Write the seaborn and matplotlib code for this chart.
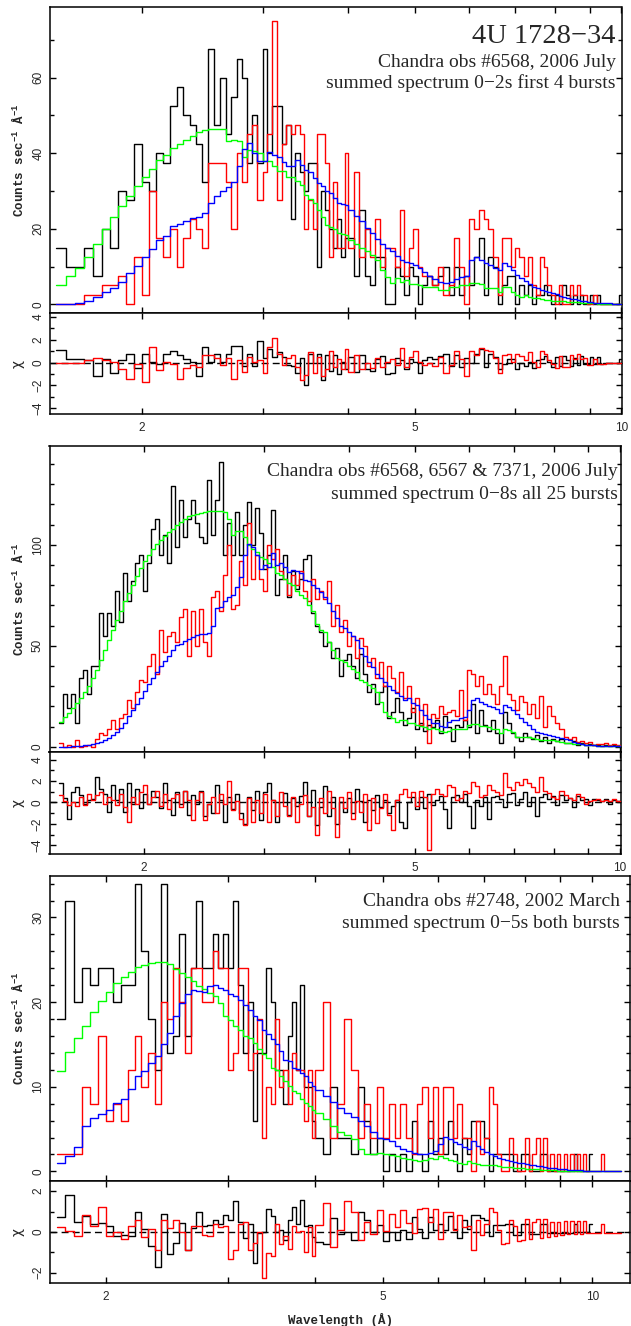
import numpy as np
import matplotlib
matplotlib.use("Agg")
import matplotlib.pyplot as plt
import seaborn as sns
from matplotlib.ticker import FixedLocator, NullFormatter, FuncFormatter

sns.set_style("ticks")
plt.rcParams['font.family'] = ['Liberation Sans', 'DejaVu Sans']
plt.rcParams['mathtext.default'] = 'regular'

# ------------------------------------------------------------------ data
# Panel 1: obs 6568, 0-2 s, first 4 bursts (bins in Angstrom)
P1_EDGES = np.concatenate([np.linspace(1.5, 4.0, 51),
                           np.linspace(4.0, 5.2, 17)[1:],
                           np.linspace(5.2, 10.0, 49)[1:]])
P1_BLACK = [15, 10, 10, 15, 7.5, 20, 15, 30, 27.5, 42.5,
            32.5, 30, 40, 37.5, 52.5, 57.5, 50, 47.5, 42.5, 32.5,
            67.5, 47.5, 60, 45, 55, 65, 60, 37.5, 50, 37.5,
            67.5, 40, 52.5, 52.5, 42.5, 47.5, 22.5, 40, 35, 30,
            37.5, 37.5, 10, 30, 25, 20, 15, 22.5, 12.5, 17.5,
            17.5, 7.5, 25, 7.5, 5, 12.5, 12.5, 0, 0, 10, 7.5, 2.5, 10, 7.5, 0, 5,
            7.5, 5, 7.5, 10, 2.5, 10, 2.5, 7.5, 5, 12.5,
            17.5, 2.5, 12.5, 10, 0, 5, 7.5, 7.5, 0, 5,
            2.5, 5, 0, 2.5, 2.5, 5, 2.5, 0, 2.5, 0,
            5, 2.5, 0, 2.5, 0, 2.5, 0, 0, 2.5, 0,
            2.5, 0, 0, 0, 0, 0, 0, 2.5]
P1_RED = [0, 0, 0, 2.5, 2.5, 5, 5, 7.5, 0, 12.5,
          2.5, 30, 17.5, 12.5, 20, 10, 17.5, 22.5, 20, 15,
          37.5, 37.5, 37.5, 32.5, 20, 40, 32.5, 45, 47.5, 27.5,
          35, 45, 75, 27.5, 42.5, 47.5, 45, 47.5, 45, 20,
          27.5, 20, 45, 45, 37.5, 12.5, 32.5, 15, 15, 40,
          15, 35, 12.5, 20, 12.5, 22.5, 10, 15, 15, 10, 25, 7.5, 15, 20, 10, 7.5,
          7.5, 5, 10, 2.5, 5, 17.5, 10, 0, 22.5, 20,
          25, 22.5, 20, 12.5, 2.5, 17.5, 17.5, 10, 15, 12.5,
          7.5, 12.5, 5, 2.5, 12.5, 10, 5, 2.5, 0, 5,
          0, 0, 5, 2.5, 5, 2.5, 2.5, 0, 0, 2.5,
          0, 0, 0, 0, 0, 0, 0, 0]
P1_GREEN = [5, 7.5, 9.5, 12.6, 15.9, 20, 23.1, 26, 28.8, 31.4,
            33.6, 35.8, 38.2, 39.6, 41.3, 42.4, 43.5, 44.6, 45.6, 46.1,
            46.4, 46.4, 46.4, 43.1, 43.4, 43.3, 39.1, 40.9, 40.5, 40,
            38, 38, 36.5, 35.3, 35.3, 33.8, 33.8, 32.6, 31.6, 29,
            28, 26.7, 25, 23.2, 21, 20.5, 20, 19, 18.7, 18.3,
            17, 16, 14.8, 14, 13, 11.7, 9, 7.3, 5.7, 6.9, 6, 6.4, 5.5, 5.5, 5.1, 4.7,
            4.5, 4.5, 3.8, 3.8, 4.7, 4.7, 5.1, 5.1, 5.6, 5.6,
            5.4, 4.2, 4.2, 4.2, 3.3, 4.7, 4.7, 3.3, 2.5, 2.0,
            2.5, 2.0, 1.6, 1.6, 1.3, 1.1, 1.1, 1.0, 1.0, 0.9,
            0.8, 0.7, 0.7, 0.6, 0.5, 0.4, 0.4, 0.3, 0.3, 0.25,
            0.2, 0.2, 0.15, 0.15, 0.1, 0.1, 0.1, 0.1]
P1_BLUE = [0, 0.1, 0.4, 1, 1.9, 3.2, 4.4, 5.8, 8.2, 10.2,
           12.4, 14.6, 16.9, 18.2, 20.6, 21.2, 22.1, 22.8, 23.2, 24.1,
           26.9, 28.8, 30.1, 31, 32.3, 36.5, 41.1, 42.8, 40, 38,
           38, 40.4, 39.5, 38.9, 37.8, 36.5, 36.5, 38.2, 36.9, 35.6,
           35.0, 33.4, 32, 31.3, 30, 29.5, 28.1, 26.7, 26.5, 26.3,
           25, 23.5, 22, 20.3, 18.8, 17.3, 16, 15, 14, 12.8, 11.6, 11.2, 11, 10.4, 9.5, 8.5,
           7.6, 6.6, 6.0, 5.6, 6.0, 6.8, 7.3, 7.6, 11.7, 12.4,
           11.7, 11.0, 10.4, 9.5, 9.1, 10.9, 10.2, 9.1, 7.8, 6.9,
           6.2, 5.4, 4.7, 4.2, 3.8, 3.5, 3.2, 2.9, 2.6, 2.2,
           2.0, 1.8, 1.5, 1.3, 1.1, 1.0, 0.8, 0.6, 0.5, 0.45,
           0.4, 0.35, 0.3, 0.3, 0.25, 0.2, 0.2, 0.2]
P1_BLACK_RES = [1.1, 0.3, 0.3, 0.2, -1.2, 0.3, -0.9, 0.2, 0.8, -0.5,
                0.8, 0.1, -0.1, 0.8, 1.0, 0.7, 0.3, 0.1, -1.2, 1.4,
                0.1, 0.8, 0.1, 0.8, 1.5, 1.5, -0.3, 0.8, -0.3, 1.9,
                0.4, 1.2, 0.5, 0.9, 0.5, -0.2, -0.3, -0.9, 0.4, -2.0,
                0.8, 0.0, 0.8, -1.5, 0.7, -0.7, 0.7, -1.0, 0.1, -0.6,
                0.5, -0.8, 0.7, -0.6, -0.7, 0.3, 0.6, -1.0, -0.9, 0.4, 0.2, -0.6, 0.3, 0.1, -0.9, 0.2,
                0.5, 0.3, 0.6, 0.8, -0.3, 0.7, -0.4, 0.4, 0.0, 0.8,
                1.2, -0.4, 0.8, 0.5, -0.6, -0.1, 0.3, 0.3, -0.6, 0.0,
                -0.3, 0.1, -0.5, 0.2, 0.3, 0.6, 0.1, -0.4, 0.5, -0.3,
                0.6, 0.2, -0.3, 0.4, -0.2, 0.6, -0.1, -0.1, 0.5, -0.1,
                0.5, -0.1, 0, 0, 0, 0, 0, 0.3]
P1_RED_RES = [0, 0, 0, 0.2, 0.4, 0.2, 0.1, -0.6, -1.45, -0.1,
              -1.7, 1.35, -0.65, 0.1, -0.1, -1.45, -0.5, -0.2, -0.35, 0.7,
              0.7, 0.4, -0.2, 0.4, -1.4, 0.2, -0.8, 0.5, 0.1, 0.2,
              -0.9, 1.35, 2.15, 0.8, -0.2, 0.4, 0.7, -0.4, -1.5, -1.1,
              0.9, -0.9, 0.5, -1.2, -0.6, 1.05, -0.4, 0.3, -0.6, 1.2,
              -0.8, 0.7, -0.6, 0.0, -0.5, 0.4, -0.4, 0.1, 0.3, -0.2, 1.3, -0.4, 0.5, 1.0, 0.1, -0.2,
              0.0, -0.3, 0.5, -0.9, -0.2, 1.0, 0.3, -1.2, 1.0, 0.7,
              1.3, 1.1, 1.0, 0.4, -0.9, 0.7, 0.8, 0.1, 0.8, 0.6,
              0.2, 0.9, 0.1, -0.4, 1.0, 0.8, 0.2, -0.1, -0.5, 0.6,
              -0.4, -0.4, 0.7, 0.3, 0.8, 0.3, 0.4, -0.2, -0.2, 0.3,
              -0.1, -0.1, -0.1, 0, 0, 0, 0, 0]

# Panel 2: obs 6568, 6567 & 7371, 0-8 s, all 25 bursts
P2_EDGES = np.geomspace(1.5, 10.0, 141)
P2_BLACK = [12, 26, 19, 26, 12, 34, 38, 26, 40, 40,
            66, 55, 66, 60, 77, 62, 86, 72, 82, 91,
            95, 77, 91, 108, 113, 95, 105, 91, 129, 99,
            122, 104, 113, 122, 111, 104, 101, 132, 105, 122,
            141, 95, 111, 95, 116, 95, 110, 121, 100, 118,
            106, 88, 95, 117, 75, 83, 95, 74, 87, 78,
            83, 93, 95, 66, 60, 57, 50, 52, 44, 49,
            35, 43, 46, 40, 34, 46, 36, 27, 31, 21,
            27, 30, 14, 17, 24, 17, 11, 14, 19, 9,
            12, 8, 11, 10, 13, 7, 15, 10, 3, 11,
            10, 13, 10, 21, 7, 18, 11, 8, 13, 7,
            2, 17, 12, 7, 5, 3, 7, 5, 4, 6,
            3, 5, 2, 4, 3, 4, 2, 2, 3, 1,
            2, 1, 1.5, 1, 1, 0.5, 1, 0.5, 1, 0.5]
P2_RED = [2, 0, 1, 0, 3.5, 0, 0.5, 1, 0, 4,
          7, 6, 9, 13, 9, 14, 16, 23, 19, 27,
          33, 32, 40, 46, 36, 58, 47, 55, 57, 52,
          64, 68, 45, 67, 50, 68, 52, 45, 74, 77,
          67, 85, 100, 68, 70, 92, 80, 111, 83, 95,
          83, 77, 100, 93, 98, 87, 83, 75, 85, 80,
          87, 77, 72, 83, 73, 77, 73, 82, 60, 70,
          57, 63, 50, 55, 44, 54, 50, 40, 44, 34,
          42, 30, 40, 34, 27, 37, 24, 30, 17, 24,
          11, 21, 2, 16, 14, 20, 16, 17, 18, 15,
          28, 13, 38, 36, 30, 35, 26, 31, 26, 21,
          30, 45, 26, 23, 18, 25, 22, 16, 21, 14,
          25, 10, 20, 15, 12, 9, 5, 4, 5, 2.5,
          3, 2, 2.5, 1, 1.5, 1.5, 2, 1, 1.5, 1]
P2_GREEN = [12.4, 14.5, 16.5, 19, 21.5, 24, 27, 30, 34, 38,
            43, 48, 53, 58, 63, 67, 72, 76, 80, 84.5,
            88.5, 92, 95, 98, 100.5, 102.5, 104.5, 106.4, 108, 110,
            111.5, 113, 114, 114.5, 115, 115.5, 116, 116.5, 116.7, 116.7,
            116.5, 116, 113, 105, 107, 107, 104, 100, 98, 96.5,
            94, 93, 91, 89, 86, 85, 83, 81, 80, 77,
            75, 73.4, 70, 67, 61, 58, 57, 52, 48, 44,
            43, 42, 40, 38.5, 37, 33, 32, 30.5, 29, 27,
            22, 17.3, 15, 14, 12.4, 13, 13.2, 12, 11.6, 10.7,
            10.5, 10, 9, 9.3, 9, 8, 7.4, 7.8, 9, 9,
            9, 9, 10.7, 11.2, 11.2, 10.5, 10.2, 10, 8.6, 8.6,
            6.6, 9, 8.5, 7.4, 5, 4.8, 4.6, 4.6, 4.2, 4,
            3.5, 3.3, 3.3, 3.2, 2.8, 2.4, 2.1, 1.8, 1.5, 1.3,
            1.2, 1.0, 0.8, 0.7, 0.6, 0.5, 0.45, 0.4, 0.35, 0.3]
P2_BLUE = [0, 0, 0.1, 0.2, 0.3, 0.5, 0.7, 0.9, 1.2, 1.7,
           2.4, 3.2, 4.3, 5.6, 7.4, 9.5, 12, 15, 18, 21,
           24, 27.5, 31, 34, 37, 40, 42.5, 45, 48, 50.5,
           51, 52.5, 53.5, 54.5, 55.5, 56, 56, 56.5, 60, 68.5,
           69, 72, 74, 75, 79, 84, 95, 100.6, 99, 95,
           88, 90, 89, 95.7, 90, 91, 89, 86.6, 87.5, 87,
           86, 82.5, 82, 80, 78.4, 76.7, 74, 71, 67, 63.5,
           60, 59, 57, 55, 52.8, 48.7, 45, 42, 39.6, 36,
           34, 32, 30, 28, 26.4, 25, 23, 24, 21.5, 20.6,
           18.2, 15.7, 13.5, 12, 11.6, 10.5, 10, 12.4, 13.2, 13,
           14, 14.9, 18.2, 23, 24, 22.3, 21, 20, 19.5, 18.5,
           16.5, 20.6, 19.5, 18, 16, 14, 12.5, 11, 9, 7.4,
           6.8, 6.2, 5.8, 5.3, 4.8, 4.2, 3.6, 3.1, 2.3, 1.8,
           1.3, 1.0, 0.8, 0.7, 0.6, 0.5, 0.45, 0.4, 0.4, 0.35]
P2_BLACK_RES = [1.8, 0.4, -1.5, 1.0, 1.4, 0.7, -0.1, 0.2, 0.3, 2.4,
                1.3, 0.8, -0.9, 1.6, 0.2, 1.3, -0.9, 1.8, -0.1, 1.3,
                -0.5, 0.8, -0.1, 1.1, 0.5, -0.5, 1.8, 0.2, -1.2, 1.0,
                -0.1, 1.1, -1.2, 0.7, -0.1, 1.1, -1.3, -0.1, -1.0, 1.6,
                0.2, -1.8, 0.5, -0.6, 0.8, -1.0, -2.0, 0.5, -0.7, 1.1,
                -1.6, 1.0, 1.8, 0.2, -1.8, 0.0, 0.9, -1.2, 0.4, -0.3,
                0.6, 1.9, -1.3, 1.2, -2.1, -0.4, 1.5, -1.3, 0.5, -2.0,
                0.0, -0.9, 0.4, -1.0, 1.3, 0.1, -1.8, 0.2, -0.7, 0.7,
                -0.4, 0.2, -1.0, -0.3, 0.2, -1.8, -2.4, 0.0, 0.5, -0.6,
                0.5, -0.5, 0.8, -0.2, 0.2, 0.6, -0.6, -2.4, 0.5, 0.7,
                0.0, 0.8, -0.3, -2.4, 0.2, -0.3, 0.5, -1.5, 0.5, 0.6,
                0.3, -0.4, 0.8, 0.9, -0.2, 0.3, 1.0, -0.3, 0.5, -1.3,
                0.5, 0.8, 0.3, 0.6, -0.2, 0.7, 0.2, 0.4, -0.4, 0.6,
                0.2, 0.3, -0.2, 0.3, 0.2, 0.1, 0.3, -0.1, 0.2, 0.1]
P2_RED_RES = [0.7, 0.1, -0.2, 0.0, -0.3, 0.5, -0.2, 0.8, 0.2, 0.7,
              1.0, -0.1, 0.5, 0.2, -0.2, 0.8, -0.4, -1.8, 0.5, -0.1,
              1.0, 1.6, -0.1, 0.5, 1.1, -0.3, 0.8, -0.6, 0.4, 0.8,
              -0.4, 1.1, 0.2, -1.6, 0.2, 1.0, -1.6, -0.1, 0.5, -1.0,
              0.8, -0.1, 2.0, -0.7, 0.1, -1.5, -2.1, 0.4, -1.8, 0.2,
              -1.0, 0.8, -1.8, 0.2, -1.3, 1.0, -0.3, -1.3, 0.5, -1.8,
              -0.1, 0.7, -1.3, -0.4, -3.0, 0.4, -1.0, 1.1, -0.5, -3.2,
              0.5, -0.5, 1.0, -1.5, 0.1, -0.9, 0.8, -2.6, 0.4, -1.9,
              -0.5, 0.8, -1.2, -2.6, 0.2, 0.8, 1.3, 0.5, 1.0, -0.3,
              1.1, 0.5, -4.4, 0.8, 1.3, 0.8, 0.6, 1.6, 1.4, 0.2,
              0.4, 1.1, 0.9, 1.9, 1.5, 0.5, 0.7, 1.6, 1.2, 1.0,
              0.7, 2.7, 1.4, 1.2, 1.9, 1.6, 2.2, 1.8, 1.4, 1.0,
              2.4, 1.1, 0.9, 0.5, 0.3, 1.1, 0.7, 0.4, 0.2, 0.8,
              0.5, -0.1, 0.1, 0.2, 0.3, 0.1, 0.2, 0.1, 0.3, 0.1]

# Panel 3: obs 2748, 0-5 s, both bursts
P3_EDGES = np.concatenate([np.linspace(1.7, 4.0, 47), np.linspace(4.0, 11.0, 71)[1:]])
P3_BLACK = [18, 32, 20, 24, 22, 24, 24, 20, 22, 22,
            34, 26, 18, 12, 34, 14, 16, 28, 16, 24,
            32, 24, 24, 28, 24, 28, 24, 32, 22, 14,
            20, 6, 14, 14, 24, 20, 12, 12, 8, 16,
            20, 12, 22, 10, 10, 6,
            4, 2, 10, 4, 4, 2, 10, 6, 2, 4,
            0, 2, 0, 2, 0, 6, 2, 0, 6, 2,
            4, 2, 6, 2, 0, 4, 2, 6, 6, 6,
            4, 0, 2, 2, 2, 2, 2, 0, 0, 2,
            2, 0, 0, 0, 2, 2, 0, 0, 0, 0,
            0, 0, 0, 0, 2, 0, 0, 0, 0, 2]
P3_RED = [2, 2, 2, 10, 8, 16, 6, 8, 6, 12,
          16, 10, 14, 8, 20, 18, 24, 20, 14, 24,
          24, 20, 20, 26, 24, 24, 12, 14, 24, 24,
          12, 14, 18, 4, 10, 8, 18, 10, 12, 8,
          14, 12, 12, 6, 12, 4,
          12, 20, 4, 8, 18, 12, 4, 8, 4, 10,
          4, 8, 4, 8, 4, 2, 8, 10, 4, 10,
          2, 10, 10, 4, 8, 4, 4, 0, 6, 2,
          4, 10, 8, 2, 0, 0, 4, 2, 0, 0,
          4, 0, 2, 4, 0, 4, 0, 2, 0, 2,
          0, 2, 0, 2, 0, 2, 0, 2, 0, 0,
          0, 0, 0, 2, 0, 0, 0, 0, 0, 0]
P3_GREEN = [11.9, 14.1, 15.7, 17.2, 18.8, 20.1, 21.2, 22.2, 23.0, 23.6,
            24.2, 24.4, 24.6, 24.7, 24.7, 24.5, 23.9, 23.4, 23.0, 22.5,
            21.9, 21.5, 21.1, 20.7, 19.9, 18.3, 17.9, 17.2, 16.7, 16.0,
            15.8, 15.2, 14.4, 13.9, 13.4, 12.2, 12.0, 11.3, 10.7, 10.1,
            9.5, 9.3, 8.5, 8.1, 7.7, 7.3,
            6.9, 6.2, 5.4, 4.6, 4.3, 3.8, 2.6, 2.0, 2.1, 2.2,
            2.1, 1.9, 1.8, 1.6, 1.5, 1.4, 1.2, 1.3, 1.6, 1.5,
            1.8, 1.6, 1.4, 1.2, 1.0, 0.9, 1.2, 1.0, 0.9, 0.8,
            0.8, 0.7, 0.7, 0.6, 0.55, 0.5, 0.5, 0.45, 0.4, 0.35,
            0.3, 0.3, 0.25, 0.22, 0.2, 0.17, 0.15, 0.13, 0.12, 0.1,
            0.09, 0.08, 0.07, 0.06, 0.05, 0.05, 0.04, 0.04, 0.03, 0.03,
            0.02, 0.02, 0.02, 0.02, 0.01, 0.01, 0.01, 0.01, 0.01, 0.01]
P3_BLUE = [1.0, 1.8, 2.9, 5.4, 6.3, 6.8, 7.3, 8.1, 8.5, 9.7,
           11.3, 11.9, 12.8, 13.6, 15.0, 16.4, 18.3, 19.9, 20.9, 21.4,
           21.3, 21.2, 21.9, 22.0, 21.7, 21.4, 21.0, 20.7, 20.3, 19.7,
           19.1, 18.3, 17.9, 16.7, 16.2, 15.6, 15.0, 14.2, 13.2, 13.0,
           12.2, 12.1, 11.6, 11.3, 10.5, 10.1,
           9.6, 8.9, 8.2, 7.5, 6.9, 6.4, 6.0, 5.4, 4.6, 4.0,
           3.8, 3.6, 3.0, 2.7, 2.4, 2.2, 2.0, 2.0, 2.2, 2.4,
           3.2, 4.1, 3.8, 3.5, 3.2, 2.9, 2.7, 3.6, 3.0, 2.6,
           2.3, 2.0, 1.8, 1.6, 1.5, 1.3, 1.2, 1.1, 1.0, 0.95,
           0.9, 0.8, 0.7, 0.65, 0.6, 0.5, 0.45, 0.4, 0.35, 0.3,
           0.28, 0.24, 0.2, 0.18, 0.15, 0.13, 0.11, 0.1, 0.09, 0.08,
           0.07, 0.06, 0.05, 0.05, 0.04, 0.04, 0.03, 0.03, 0.03, 0.02]
P3_BLACK_RES = [0.75, 1.8, 0.5, 0.8, 0.4, 0.45, 0.3, -0.2, -0.15, -0.2,
                1.0, 0.15, -0.7, -1.7, 0.9, -1.1, -0.55, 0.45, -0.9, 0.2,
                1.0, 0.3, 0.35, 0.6, 0.4, 0.85, 0.6, 1.5, 0.5, -0.3,
                0.4, -1.5, -0.05, 0.0, 1.15, 0.8, 0.0, 0.1, -0.4, 0.6,
                1.25, 0.4, 1.55, 0.3, 0.35, -0.25,
                -0.5, -0.6, 0.7, -0.1, 0.0, -0.4, 1.0, 0.6, 0.0, 0.35,
                -0.45, 0.0, -0.4, 0.1, -0.35, 0.75, 0.15, -0.3, 0.75, 0.1,
                0.4, 0.1, 0.8, 0.15, -0.3, 0.6, 0.15, 0.85, 0.85, 0.7,
                0.6, -0.2, 0.35, 0.35, 0.35, 0.4, 0.4, -0.15, -0.15, 0.4,
                0.4, -0.1, -0.1, -0.1, 0.4, 0.4, -0.05, -0.05, -0.05, -0.05,
                -0.05, -0.05, -0.05, -0.05, 0.4, 0.0, 0.0, 0.0, 0.0, 0.4]
P3_RED_RES = [0.25, 0.05, -0.2, 0.85, 0.3, 1.25, -0.2, 0.0, -0.35, 0.3,
              0.6, -0.25, 0.15, -0.9, 0.6, 0.2, 0.6, 0.0, -0.9, 0.3,
              0.3, -0.15, -0.2, 0.4, 0.25, 0.3, -1.3, -0.9, 0.4, 0.5,
              -0.9, -0.55, 0.0, -2.25, -1.05, -1.2, 0.4, -0.6, -0.2, -0.85,
              0.3, 0.0, 0.05, -1.0, 0.25, -1.2,
              0.35, 1.4, -0.75, 0.1, 1.5, 1.0, -0.4, 0.5, -0.1, 1.1,
              0.05, 0.9, 0.25, 1.1, 0.45, -0.05, 1.15, 1.2, 0.5, 1.15,
              -0.35, 1.0, 1.0, 0.1, 0.85, 0.25, 0.3, -0.9, 0.6, -0.15,
              0.4, 1.2, 1.0, 0.1, -0.6, -0.55, 0.6, 0.3, -0.45, -0.4,
              0.65, -0.35, 0.5, 0.65, -0.3, 0.65, -0.25, 0.5, -0.2, 0.5,
              -0.15, 0.55, -0.12, 0.55, -0.1, 0.55, -0.08, 0.55, -0.05, -0.05,
              -0.05, -0.04, -0.04, 0.4, -0.03, -0.03, -0.03, -0.03, -0.03, -0.03]

TEXT_P1 = ["4U 1728\u221234", "Chandra obs #6568, 2006 July",
           "summed spectrum 0\u22122s first 4 bursts"]
TEXT_P2 = ["Chandra obs #6568, 6567 & 7371, 2006 July",
           "summed spectrum 0\u22128s all 25 bursts"]
TEXT_P3 = ["Chandra obs #2748, 2002 March",
           "summed spectrum 0\u22125s both bursts"]

# ------------------------------------------------------------------ figure
W, H = 631, 1326
fig = plt.figure(figsize=(W / 100, H / 100), dpi=100)
fig.patch.set_facecolor("white")


def rect(x0, x1, y0, y1):
    return [x0 / W, 1 - y1 / H, (x1 - x0) / W, (y1 - y0) / H]


def ftext(x, y, s, **kw):
    fig.text(x / W, 1 - y / H, s, **kw)


def steps(ax, edges, vals, color, lw=1.0, z=2):
    vals = np.asarray(vals, dtype=float)
    x = np.asarray(edges)[:len(vals) + 1]
    y = np.append(vals, vals[-1])
    sns.lineplot(x=x, y=y, ax=ax, color=color, lw=lw, drawstyle="steps-post",
                 estimator=None, sort=False, legend=False, zorder=z)


def setup(ax, xlim, ylim, ymaj, ymin, xlabels):
    ax.set_xscale("log")
    ax.set_xlim(*xlim)
    ax.set_ylim(*ylim)
    ax.xaxis.set_major_locator(FixedLocator([2, 5, 10]))
    ax.xaxis.set_minor_locator(FixedLocator([3, 4, 6, 7, 8, 9]))
    ax.xaxis.set_minor_formatter(NullFormatter())
    ax.xaxis.set_major_formatter(FuncFormatter(lambda v, p: f"{v:g}"))
    ax.yaxis.set_major_locator(FixedLocator(ymaj))
    ax.yaxis.set_minor_locator(FixedLocator(ymin))
    ax.yaxis.set_major_formatter(FuncFormatter(lambda v, p: f"{v:g}".replace("-", "\u2212")))
    ax.tick_params(which="both", direction="in", top=True, right=True,
                   width=1.0, color="black")
    ax.tick_params(axis="x", which="both", length=4.5)
    ax.tick_params(axis="y", which="major", length=4.5)
    ax.tick_params(axis="y", which="minor", length=3)
    ax.tick_params(axis="y", labelsize=8.5, labelrotation=90, pad=4)
    ax.tick_params(axis="x", labelsize=8.5, pad=6, labelbottom=xlabels)
    for lab in ax.get_yticklabels():
        lab.set_va("center")
    for sp in ax.spines.values():
        sp.set_linewidth(1.1)
        sp.set_color("black")
    ax.set_xlabel("")
    ax.set_ylabel("")
    ax.set_facecolor("white")


panels = [
    dict(main=rect(50, 621.5, 7, 313), res=rect(50, 621.5, 313, 414),
         xlim=(1.471, 10.0), ylim=(-2.3, 78.7), ymaj=[0, 20, 40, 60],
         ymin=[10, 30, 50, 70], rlim=(-4.5, 4.35), rmaj=[-4, -2, 0, 2, 4],
         rmin=[-3, -1, 1, 3], edges=P1_EDGES, black=P1_BLACK, red=P1_RED,
         green=P1_GREEN, blue=P1_BLUE, bres=P1_BLACK_RES, rres=P1_RED_RES),
    dict(main=rect(49.5, 620.5, 446, 752), res=rect(49.5, 620.5, 752, 854),
         xlim=(1.455, 10.03), ylim=(-2.6, 148.9), ymaj=[0, 50, 100],
         ymin=[10, 20, 30, 40, 60, 70, 80, 90, 110, 120, 130, 140],
         rlim=(-4.8, 4.7), rmaj=[-4, -2, 0, 2, 4], rmin=[-3, -1, 1, 3],
         edges=P2_EDGES, black=P2_BLACK, red=P2_RED, green=P2_GREEN,
         blue=P2_BLUE, bres=P2_BLACK_RES, rres=P2_RED_RES),
    dict(main=rect(50, 629.5, 876, 1181), res=rect(50, 629.5, 1181, 1283),
         xlim=(1.663, 11.31), ylim=(-1.14, 34.9), ymaj=[0, 10, 20, 30],
         ymin=[2, 4, 6, 8, 12, 14, 16, 18, 22, 24, 26, 28, 32, 34],
         rlim=(-2.5, 2.5), rmaj=[-2, 0, 2], rmin=[-1, 1],
         edges=P3_EDGES, black=P3_BLACK, red=P3_RED, green=P3_GREEN,
         blue=P3_BLUE, bres=P3_BLACK_RES, rres=P3_RED_RES),
]

LBL = dict(family=["Liberation Mono", "DejaVu Sans Mono"], fontweight="bold", fontsize=9)

for p in panels:
    ax = fig.add_axes(p["main"])
    steps(ax, p["edges"], p["black"], "black", 1.0, 2)
    steps(ax, p["edges"], p["red"], "#ff0000", 1.0, 3)
    steps(ax, p["edges"], p["green"], "#00ff00", 1.0, 4)
    steps(ax, p["edges"], p["blue"], "#0000ff", 1.0, 5)
    setup(ax, p["xlim"], p["ylim"], p["ymaj"], p["ymin"], False)

    rx = fig.add_axes(p["res"])
    rx.axhline(0, color="black", lw=1.0, ls=(0, (5, 3)), zorder=1)
    steps(rx, p["edges"], p["bres"], "black", 1.0, 2)
    steps(rx, p["edges"], p["rres"], "#ff0000", 1.0, 3)
    setup(rx, p["xlim"], p["rlim"], p["rmaj"], p["rmin"], True)

    ymid_main = (1 - (p["main"][1] + p["main"][3] / 2)) * H
    ymid_res = (1 - (p["res"][1] + p["res"][3] / 2)) * H
    ftext(18, ymid_main, "Counts sec$^{-1}$ \u00c5$^{-1}$", rotation=90,
          ha="center", va="center", **LBL)
    ftext(18, ymid_res, "\u03c7", rotation=90, ha="center", va="center",
          family="DejaVu Sans", fontsize=10)

SERIF = dict(family=["Liberation Serif", "DejaVu Serif"], ha="right", va="baseline")
ftext(616, 43, TEXT_P1[0], fontsize=20.5, **SERIF)
ftext(616, 67, TEXT_P1[1], fontsize=14, **SERIF)
ftext(616, 88, TEXT_P1[2], fontsize=14, **SERIF)
ftext(618, 476, TEXT_P2[0], fontsize=14, **SERIF)
ftext(618, 499, TEXT_P2[1], fontsize=14, **SERIF)
ftext(620, 905, TEXT_P3[0], fontsize=14, **SERIF)
ftext(620, 928, TEXT_P3[1], fontsize=14, **SERIF)

ftext(340, 1320, "Wavelength (\u00c5)", ha="center", va="center", **LBL)

fig.savefig("out.png", dpi=100, facecolor="white")
